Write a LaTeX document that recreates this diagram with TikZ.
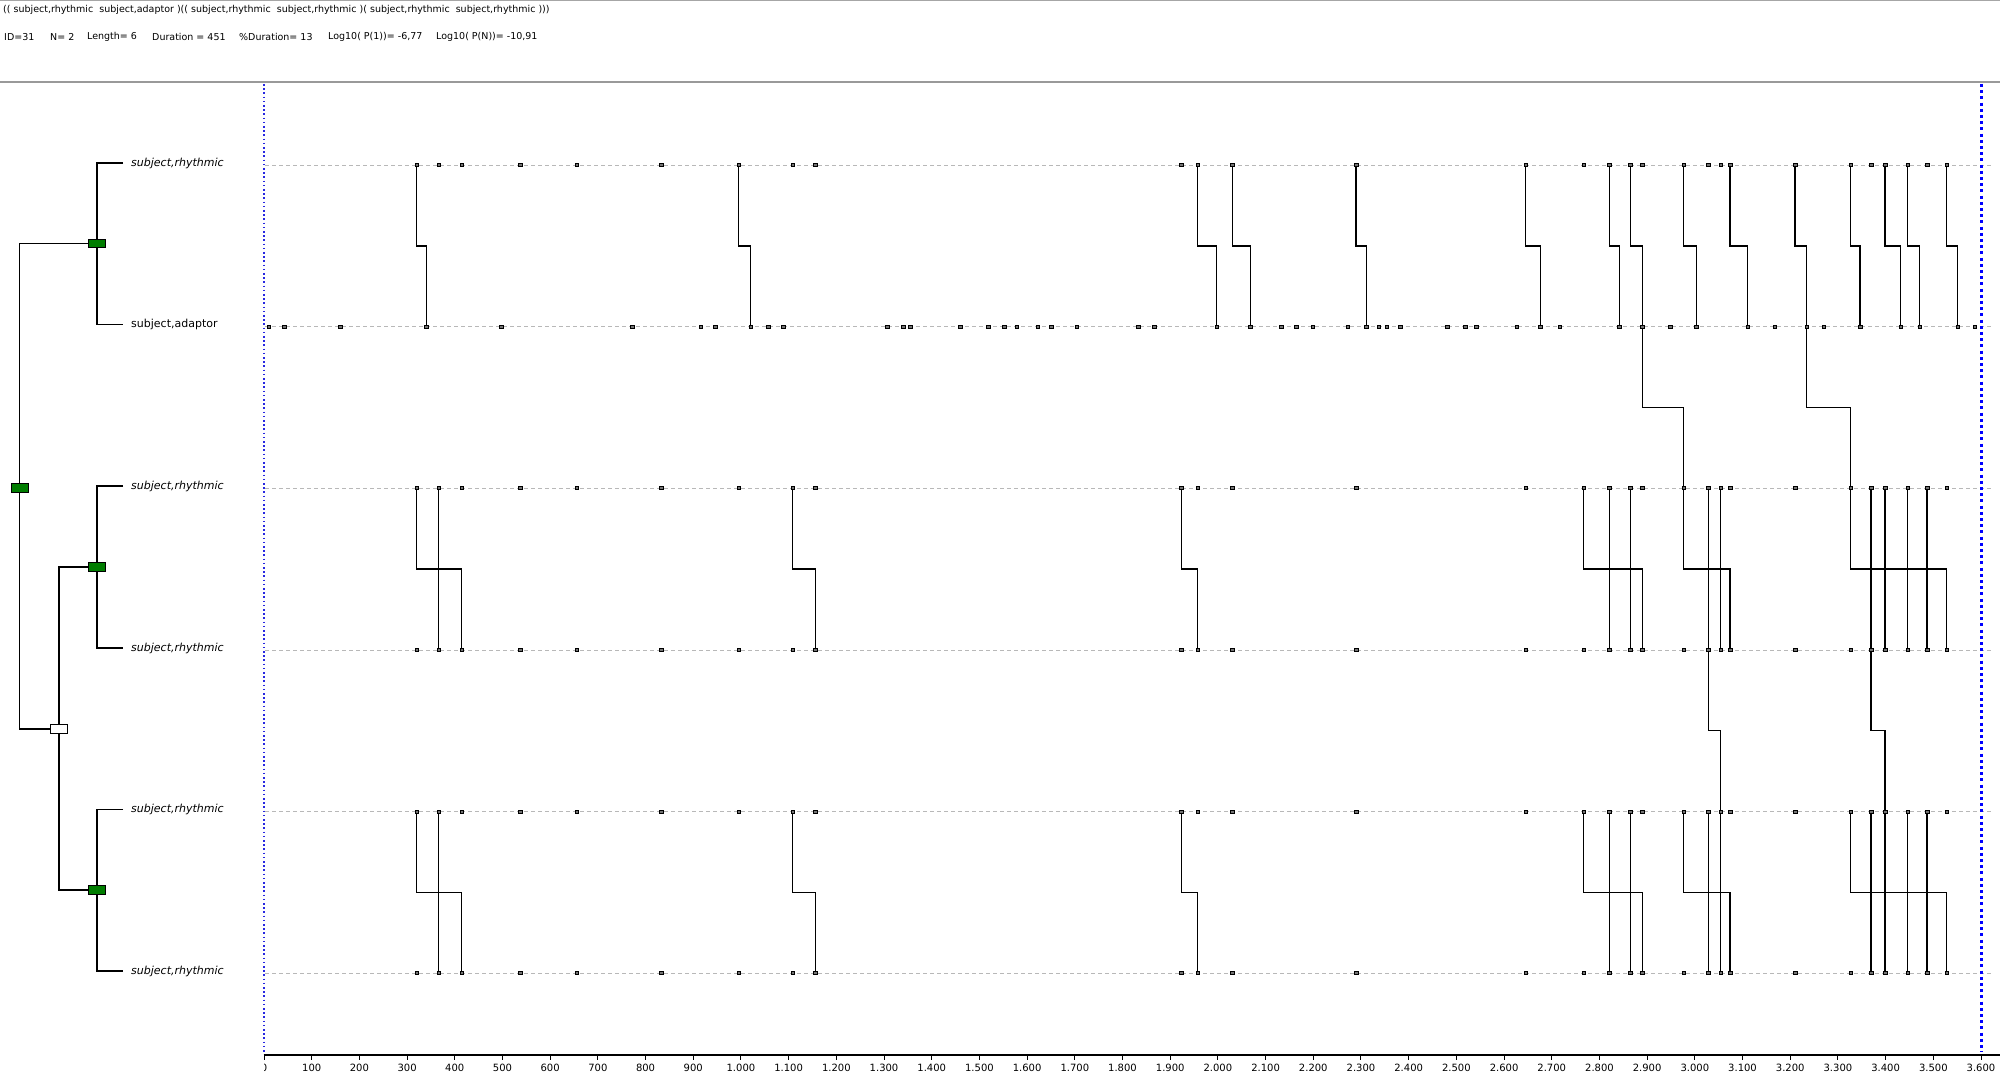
\documentclass[tikz,border=0pt]{standalone}
\usepackage{fontspec}
\setmainfont{DejaVu Sans}
\definecolor{jgreen}{RGB}{0,125,0}
\definecolor{dotblue}{RGB}{40,40,225}
\newcommand\tplist{416.7,438.7,461.7,520,576.7,661,738.7,792.7,815.3,1181.4,1197.7,1232.4,1356,1525.6,1583.6,1609.1,1630.2,1642.1,1683.9,1708.3,1720.7,1730,1795,1850.8,1871,1885,1907.7,1927,1946.8}
\newcommand\tpadaptor{268.6,284.1,340.4,426.5,501.1,632,700.9,715.2,750.8,768,783.5,887.4,903,910.4,960.4,988,1004,1016.6,1037.8,1051,1076.9,1138.3,1154.4,1216.7,1250.3,1281.2,1296.3,1312.6,1347.8,1366.3,1378.7,1386.8,1400.4,1447,1465.4,1476.3,1516.9,1540.2,1559.8,1619.4,1642.1,1670.3,1696.3,1747.8,1774.9,1806.9,1823.7,1860,1900.7,1919.6,1957.6,1974.9}
\newcommand\tppairs{416.7/461.7,438.7/438.7,792.7/815.3,1181.4/1197.7,1583.6/1642.1,1609.1/1609.1,1630.2/1630.2,1683.9/1730,1708.3/1708.3,1720.7/1720.7,1850.8/1946.8,1871/1871,1885/1885,1907.7/1907.7,1927/1927}
\begin{document}
\begin{tikzpicture}[x=1pt,y=-1pt,
  rowln/.style={draw=black!28, dash pattern=on 4pt off 3pt, line width=0.8pt},
  stepln/.style={draw=black, line width=1.1pt},
  treeln/.style={draw=black, line width=1.3pt},
  evt/.style={rectangle, draw=black, fill=black!55, line width=0.6pt, minimum width=3.6pt, minimum height=3.2pt, inner sep=0pt},
  jbox/.style={rectangle, draw=black, line width=0.9pt, fill=jgreen, minimum width=17pt, minimum height=8.5pt, inner sep=0pt},
  wbox/.style={jbox, fill=white},
  lab/.style={font=\fontsize{11}{13}\selectfont, inner sep=0pt, anchor=west},
  hdr/.style={font=\fontsize{9.5}{11}\selectfont, inner sep=0pt, anchor=west},
  ticklab/.style={font=\fontsize{10}{12}\selectfont, inner sep=0pt},
]
\useasboundingbox (0,0) rectangle (2000,1075);
\fill[white] (0,0) rectangle (2000,1075);

% header
\draw[black!35, line width=1pt] (0,1) -- (2000,1);
\draw[black!40, line width=1.2pt] (0,82) -- (2000,82);
\node[hdr] (h1) at (3,10) {(( subject,rhythmic\ \ subject,adaptor )(( subject,rhythmic\ \ subject,rhythmic )( subject,rhythmic\ \ subject,rhythmic )))};
\node[hdr] (h2a) at (4,37) {ID=31};
\node[hdr] (h2b) at (50,37) {N= 2};
\node[hdr] (h2c) at (87,37) {Length= 6};
\node[hdr] (h2d) at (152,37) {Duration = 451};
\node[hdr] (h2e) at (239,37) {\%Duration= 13};
\node[hdr] (h2f) at (328,37) {Log10( P(1))= -6,77};
\node[hdr] (h2g) at (436,37) {Log10( P(N))= -10,91};

% row lines
\foreach \y in {165,326.5,488,650,811.5,973}
  \draw[rowln] (265,\y) -- (1992,\y);

% blue bounds
\draw[dotblue, line width=1.3pt, dash pattern=on 1.6pt off 2.6pt] (264,84) -- (264,1052);
\draw[blue, line width=3pt, dash pattern=on 3pt off 3.2pt] (1981,84) -- (1981,1052);

% axis
\draw[black, line width=1.3pt] (263.5,1055) -- (2000,1055);
\foreach \t in {0,100,...,3600}
  \draw[black, line width=1pt] ({264+0.47694*\t},1055) -- ++(0,5);
\begin{scope}
  \clip (264,1058) rectangle (300,1075);
  \node[ticklab] (t0) at (264,1068) {0};
\end{scope}
\foreach \t/\l [count=\i] in {100/100,200/200,300/300,400/400,500/500,600/600,700/700,800/800,900/900,1000/1.000,1100/1.100,1200/1.200,1300/1.300,1400/1.400,1500/1.500,1600/1.600,1700/1.700,1800/1.800,1900/1.900,2000/2.000,2100/2.100,2200/2.200,2300/2.300,2400/2.400,2500/2.500,2600/2.600,2700/2.700,2800/2.800,2900/2.900,3000/3.000,3100/3.100,3200/3.200,3300/3.300,3400/3.400,3500/3.500,3600/3.600}
  \node[ticklab] (tk\i) at ({264+0.47694*\t},1068) {\l};

% steps: (A B)
\foreach \a/\b in {416.7/426.5,738.7/750.8,1197.7/1216.7,1232.4/1250.3,1356/1366.3,1525.6/1540.2,1609.1/1619.4,1630.2/1642.1,1683.9/1696.3,1730/1747.8,1795/1806.9,1850.8/1860,1885/1900.7,1907.7/1919.6,1946.8/1957.6}
  \draw[stepln] (\a,165) |- (\b,246) -- (\b,326.5);
% (A B) -> ((C D)(E F))
\foreach \a/\b in {1642.1/1683.9,1806.9/1850.8}
  \draw[stepln] (\a,326.5) |- (\b,407.3) -- (\b,488);
% (C D)
\foreach \a/\b in \tppairs
  \draw[stepln] (\a,488) |- (\b,569) -- (\b,650);
% (C D) -> (E F)
\foreach \a/\b in {1708.3/1720.7,1871/1885}
  \draw[stepln] (\a,650) |- (\b,730.7) -- (\b,811.5);
% (E F)
\foreach \a/\b in \tppairs
  \draw[stepln] (\a,811.5) |- (\b,892.5) -- (\b,973);

% events
\foreach \y [count=\r] in {165,488,650,811.5,973}
  \foreach \x [count=\i] in \tplist
    \node[evt] (r\r e\i) at (\x,\y) {};
\foreach \x [count=\i] in \tpadaptor
  \node[evt] (ad\i) at (\x,326.5) {};

% tree labels
\node[lab] (L1) at (131,163) {\itshape subject,rhythmic};
\node[lab] (L2) at (131,324.5) {subject,adaptor};
\node[lab] (L3) at (131,486) {\itshape subject,rhythmic};
\node[lab] (L4) at (131,648) {\itshape subject,rhythmic};
\node[lab] (L5) at (131,809.5) {\itshape subject,rhythmic};
\node[lab] (L6) at (131,971) {\itshape subject,rhythmic};

\coordinate (cAB) at (97,243.5);
\coordinate (cCD) at (97,567);
\coordinate (cEF) at (97,890);
\coordinate (cCDEF) at (59,729);
\coordinate (cR) at (19.5,488);

\draw[treeln] ([xshift=-8pt]L1.west) -| (cAB) |- ([xshift=-8pt]L2.west);
\draw[treeln] ([xshift=-8pt]L3.west) -| (cCD) |- ([xshift=-8pt]L4.west);
\draw[treeln] ([xshift=-8pt]L5.west) -| (cEF) |- ([xshift=-8pt]L6.west);
\draw[treeln] (cCD) -| (cCDEF) |- (cEF);
\draw[treeln] (cAB) -| (cR) |- (cCDEF);

\node[jbox] (AB) at (cAB) {};
\node[jbox] (CD) at (cCD) {};
\node[jbox] (EF) at (cEF) {};
\node[wbox] (CDEF) at (cCDEF) {};
\node[jbox] (R) at (cR) {};
\end{tikzpicture}
\end{document}
